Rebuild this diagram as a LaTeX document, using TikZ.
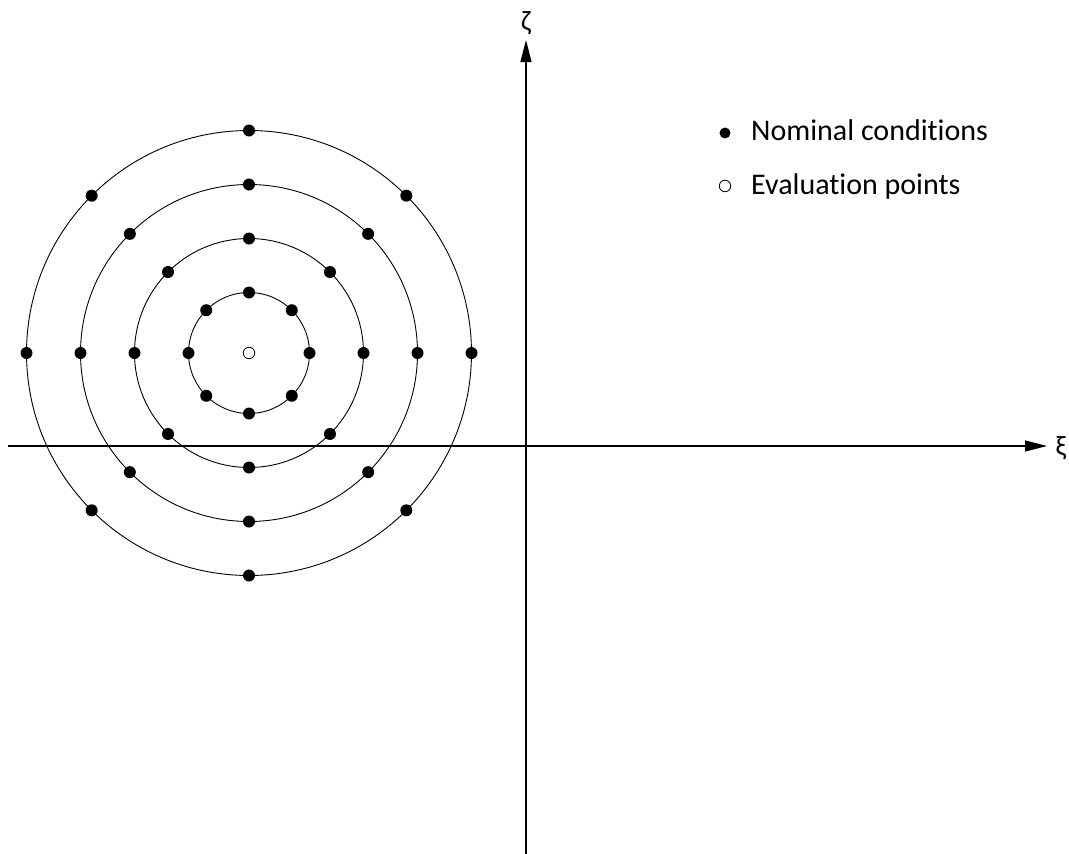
\documentclass[tikz,border=0pt]{standalone}
\usepackage{fontspec}
\setmainfont{Carlito}[Ligatures=NoCommon]
\usetikzlibrary{arrows.meta,calc}
\tikzset{
  dot/.style={circle,fill=black,inner sep=0pt,minimum size=12pt},
  opendot/.style={circle,draw=black,fill=white,line width=0.8pt,inner sep=0pt,minimum size=11.5pt},
  ring/.style={draw=black,line width=0.9pt},
  axis/.style={line width=1.3pt,-{Triangle[length=22pt,width=11pt]}},
  lbl/.style={font=\fontsize{30}{36}\selectfont,anchor=base west,inner sep=0pt},
  greek/.style={font=\fontsize{28}{30}\selectfont,inner sep=0pt}
}
\begin{document}
\begin{tikzpicture}[x=1pt,y=-1pt]
\useasboundingbox (0,0) rectangle (1069,854);
% axes
\coordinate (xs) at (8,446);
\coordinate (xe) at (1047,446);
\coordinate (ys) at (526,854);
\coordinate (ye) at (526,40);
\draw[axis] (xs) -- (xe);
\draw[axis] (ys) -- (ye);
\node[greek] (xi) at (1061,448) {ξ};
\node[greek] (zeta) at (526,23) {ζ};
% rings
\coordinate (c) at (249,353);
\foreach \r in {60.5,114.5,168.5,222.5}
  \draw[ring] (c) circle[radius=\r];
\foreach \r [count=\k] in {60.5,114.5,168.5,222.5}
  \foreach \a [count=\j] in {0,45,...,315}
    \node[dot] (d\k-\j) at ($(c)+(\a:\r)$) {};
\node[opendot] (center) at (c) {};
% legend
\node[dot,minimum size=11pt] (legA) at (725,133) {};
\node[opendot] (legB) at (725,186) {};
\node[lbl] (tA) at (751,140) {Nominal conditions};
\node[lbl] (tB) at (751,194) {Evaluation points};
\end{tikzpicture}
\end{document}
